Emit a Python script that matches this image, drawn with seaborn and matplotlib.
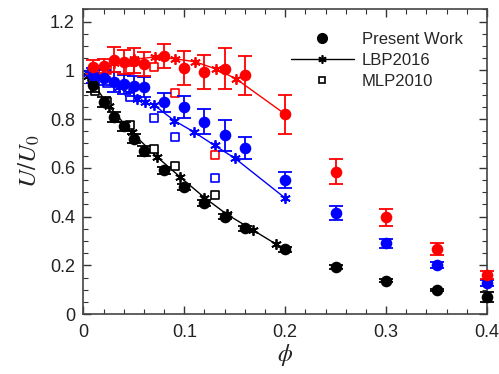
import matplotlib
matplotlib.use("Agg")
import matplotlib.pyplot as plt
import seaborn as sns
import numpy as np
import pandas as pd
from matplotlib.ticker import MultipleLocator, FuncFormatter
from matplotlib.lines import Line2D

# ---- data ----
phi = [0.01, 0.02, 0.03, 0.04, 0.05, 0.06, 0.08, 0.10, 0.12, 0.14, 0.16, 0.20, 0.25, 0.30, 0.35, 0.40]
u_black = [0.94, 0.87, 0.81, 0.77, 0.72, 0.67, 0.59, 0.52, 0.455, 0.40, 0.352, 0.266, 0.195, 0.138, 0.098, 0.07]
e_black = [0.03, 0.02, 0.02, 0.02, 0.02, 0.02, 0.015, 0.012, 0.012, 0.01, 0.01, 0.01, 0.008, 0.006, 0.005, 0.02]
u_blue = [0.98, 0.97, 0.953, 0.942, 0.936, 0.932, 0.868, 0.85, 0.79, 0.733, 0.68, 0.55, 0.415, 0.29, 0.20, 0.127]
e_blue = [0.03, 0.03, 0.04, 0.04, 0.04, 0.04, 0.04, 0.045, 0.05, 0.065, 0.045, 0.034, 0.03, 0.018, 0.012, 0.012]
u_red = [1.013, 1.017, 1.044, 1.035, 1.04, 1.026, 1.058, 1.01, 0.993, 1.007, 0.979, 0.82, 0.585, 0.397, 0.266, 0.161]
e_red = [0.03, 0.03, 0.05, 0.05, 0.05, 0.05, 0.05, 0.07, 0.07, 0.085, 0.08, 0.08, 0.053, 0.034, 0.024, 0.015]

lbp_black_x = [0.005, 0.025, 0.048, 0.073, 0.096, 0.12, 0.142, 0.168, 0.191, 0.20]
lbp_black_y = [0.975, 0.855, 0.745, 0.645, 0.562, 0.478, 0.41, 0.345, 0.287, 0.266]
lbp_blue_x = [0.005, 0.015, 0.025, 0.035, 0.045, 0.053, 0.061, 0.07, 0.09, 0.11, 0.13, 0.15, 0.20]
lbp_blue_y = [0.99, 0.975, 0.955, 0.93, 0.905, 0.882, 0.868, 0.858, 0.794, 0.746, 0.692, 0.64, 0.476]
lbp_red_x = [0.01, 0.03, 0.05, 0.071, 0.091, 0.111, 0.131, 0.151, 0.20]
lbp_red_y = [1.015, 1.03, 1.045, 1.055, 1.047, 1.035, 1.006, 0.966, 0.82]

mlp_x = [0.012, 0.023, 0.046, 0.07, 0.091, 0.13]
mlp_black = [0.915, 0.868, 0.774, 0.679, 0.607, 0.49]
mlp_blue = [0.975, 0.95, 0.89, 0.803, 0.726, 0.557]
mlp_red = [1.0, 1.0, 1.0, 1.013, 0.906, 0.654]

colors = {"black": "#000000", "blue": "#0000ff", "red": "#ff0000"}

sns.set_style("ticks")
plt.rcParams['font.family'] = ['Liberation Sans', 'DejaVu Sans']
plt.rcParams['mathtext.fontset'] = 'stix'

fig = plt.figure(figsize=(4.99, 3.74), dpi=100)
ax = fig.add_axes([0.167, 0.160, 0.809, 0.815])

groups = [
    ("black", u_black, e_black, lbp_black_x, lbp_black_y, mlp_black),
    ("blue", u_blue, e_blue, lbp_blue_x, lbp_blue_y, mlp_blue),
    ("red", u_red, e_red, lbp_red_x, lbp_red_y, mlp_red),
]

for name, u, e, lx, ly, mlp in groups:
    c = colors[name]
    df_l = pd.DataFrame({"x": lx, "y": ly})
    sns.lineplot(data=df_l, x="x", y="y", ax=ax, color=c, lw=1.0,
                 marker=(6, 2, 0), markersize=7.5, markeredgewidth=1.3,
                 markeredgecolor=c, sort=False, zorder=2)
    df_m = pd.DataFrame({"x": mlp_x, "y": mlp})
    sns.scatterplot(data=df_m, x="x", y="y", ax=ax, marker="s", s=36,
                    facecolor="white", edgecolor=c, linewidth=1.2, zorder=3)
    ebar = ax.errorbar(phi, u, yerr=e, fmt="none", ecolor=c, elinewidth=1.3,
                       capsize=5, capthick=1.3, zorder=4)
    for art in ebar.lines[1] + ebar.lines[2]:
        art.set_clip_on(False)
    df_p = pd.DataFrame({"x": phi, "y": u})
    sns.scatterplot(data=df_p, x="x", y="y", ax=ax, marker="o", s=70,
                    color=c, edgecolor=c, linewidth=0, zorder=5, clip_on=False)

ax.set_xlim(0, 0.4)
ax.set_ylim(0, 1.25)
ax.xaxis.set_major_locator(MultipleLocator(0.1))
ax.xaxis.set_minor_locator(MultipleLocator(0.02))
ax.yaxis.set_major_locator(MultipleLocator(0.2))
ax.yaxis.set_minor_locator(MultipleLocator(0.05))
ax.xaxis.set_major_formatter(FuncFormatter(lambda v, p: f"{v:g}"))
ax.yaxis.set_major_formatter(FuncFormatter(lambda v, p: f"{v:g}"))
ax.tick_params(which="both", direction="in", top=True, right=True, colors="#333333",
               labelcolor="#222222", labelsize=13)
ax.tick_params(axis="x", which="major", pad=7)
ax.tick_params(axis="y", which="major", pad=6)
ax.tick_params(which="major", length=6, width=1)
ax.tick_params(which="minor", length=3.5, width=0.8)
for s in ax.spines.values():
    s.set_color("#444444")
    s.set_linewidth(1.2)

ax.set_xlabel(r"$\phi$", fontsize=17, color="#222222", labelpad=1)
ax.set_ylabel(r"$U/U_0$", fontsize=18, color="#222222", labelpad=6)

handles = [
    Line2D([], [], marker="o", color="black", ls="none", markersize=7),
    Line2D([], [], marker=(6, 2, 0), color="black", lw=1, markersize=6, markeredgewidth=1.2),
    Line2D([], [], marker="s", color="black", markerfacecolor="white", ls="none",
           markersize=5, markeredgewidth=1.2),
]
ax.legend(handles, ["Present Work", "LBP2016", "MLP2010"], loc="upper left",
          bbox_to_anchor=(0.514, 0.925), frameon=False, fontsize=12,
          handlelength=3.8, handletextpad=0.45, labelspacing=0.36,
          borderpad=0, borderaxespad=0)

fig.savefig("out.png", dpi=100)
